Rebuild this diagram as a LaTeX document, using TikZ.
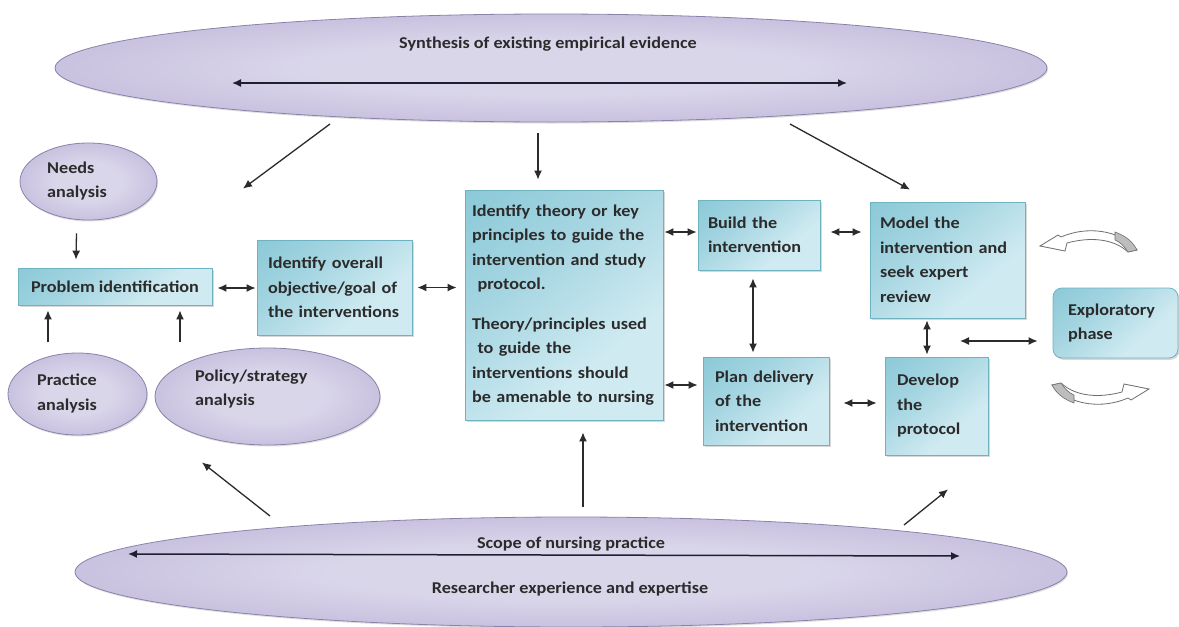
\documentclass[tikz,border=0pt]{standalone}
\usepackage{fontspec}
\setmainfont{Carlito}[FakeStretch=1.1]
\usetikzlibrary{arrows.meta,shadows,calc,shapes.geometric}

\definecolor{boxdark}{HTML}{7CC1D1}
\definecolor{boxmid}{HTML}{A4D5E1}
\definecolor{boxlight}{HTML}{CFEAF1}
\definecolor{boxedge}{HTML}{6FB2C2}
\definecolor{ovdark}{HTML}{A197C7}
\definecolor{ovmid}{HTML}{BFB7DA}
\definecolor{ovlight}{HTML}{DAD6EA}
\definecolor{ovedge}{HTML}{8A82AB}
\definecolor{ink}{HTML}{2B2B2B}
\definecolor{barink}{HTML}{1F1F33}
\definecolor{swooshedge}{HTML}{6E6E6E}
\definecolor{swooshfill}{HTML}{BDBDBD}

% soft fills for boxes and ovals
\pgfdeclareverticalshading{tealfade}{100bp}{color(0bp)=(boxlight); color(35bp)=(boxlight);
  color(62bp)=(boxmid); color(100bp)=(boxdark)}
\pgfdeclareradialshading{lilacfade}{\pgfpointorigin}{color(0bp)=(ovlight); color(12bp)=(ovlight);
  color(32bp)=(ovmid); color(50bp)=(ovdark); color(100bp)=(ovdark)}

\tikzset{
  lab/.style={font=\fontsize{16.5}{24.5}\selectfont\bfseries, text=ink},
  txt/.style={lab, inner sep=0pt, align=left},
  box/.style={lab, draw=boxedge, line width=0.8pt, shading=tealfade, shading angle=40,
    align=left, inner sep=0pt,
    drop shadow={shadow xshift=1.5pt, shadow yshift=-1.8pt, opacity=0.3}},
  oval/.style={ellipse, draw=ovedge, line width=0.8pt, shading=lilacfade, inner sep=0pt,
    drop shadow={shadow xshift=1pt, shadow yshift=-1.5pt, opacity=0.25}},
  >={Latex[length=9pt,width=8pt]},
  arr/.style={->, line width=1.3pt, draw=ink},
  darr/.style={<->, line width=1.3pt, draw=ink},
  bar/.style={<->, line width=1.5pt, draw=barink},
  swoosh/.pic={
    \filldraw[fill=white, draw=swooshedge, line width=0.8pt]
      (-48,4) -- (-30,-7) -- (-27,-5) .. controls (-2,-16) and (31,-13) .. (49,8)
      -- (40,10) .. controls (25,-4) and (1,-5) .. (-21,1) -- (-23,9) -- cycle;
    \filldraw[fill=swooshfill, draw=swooshedge, line width=0.6pt]
      (27,-10) .. controls (38,-6) and (45,0) .. (49,8)
      -- (40,10) .. controls (36,4) and (32,0) .. (27,-2) -- cycle;
  },
}

\begin{document}
\begin{tikzpicture}[x=1pt, y=-1pt]
\useasboundingbox (0,0) rectangle (1179,627);
\fill[white] (0,0) rectangle (1179,627);

% large context ovals
\node[oval, minimum width=992pt, minimum height=108pt] (evid) at (551,68) {};
\node[txt] (evidtxt) at (548,44) {Synthesis of existing empirical evidence};
\coordinate (evL) at (232,83);
\coordinate (evR) at (847,83);
\draw[bar] (evL) -- (evR);

\node[oval, minimum width=992pt, minimum height=110pt] (res) at (571,572) {};
\node[txt] (scopetxt) at (571,544) {Scope of nursing practice};
\node[txt] (restxt) at (570,589) {Researcher experience and expertise};
\coordinate (resL) at (128,554);
\coordinate (resR) at (960,556);
\draw[bar] (resL) -- (resR);

% analysis ovals
\node[oval, minimum width=137pt, minimum height=77pt] (needs) at (88.5,181.5) {};
\node[txt, anchor=west] (needstxt) at (47,181) {Needs\\analysis};
\node[oval, minimum width=139pt, minimum height=82pt] (practice) at (77.5,394) {};
\node[txt, anchor=west] (practicetxt) at (37,393.5) {Practice\\analysis};
\node[oval, minimum width=225pt, minimum height=97pt] (policy) at (267.5,396.5) {};
\node[txt, anchor=west] (policytxt) at (195,389) {Policy/strategy\\analysis};

% process boxes
\node[box, align=center, minimum width=194pt, minimum height=37pt] (prob) at (115,286.5) {Problem identification};
\node[box, minimum width=155pt, minimum height=95pt, text width=133pt] (goal) at (334.5,287.5)
  {Identify overall\\objective/goal of\\the interventions};
\node[box, minimum width=198pt, minimum height=230pt, text width=184pt] (theory) at (564,305)
  {Identify theory or key\\principles to guide the\\intervention and study\\\ protocol.\\[15pt]
   Theory/principles used\\\ to guide the\\interventions should\\be amenable to nursing};
\node[box, minimum width=122pt, minimum height=70pt, text width=102pt] (build) at (759,235)
  {Build the\\intervention};
\node[box, minimum width=126pt, minimum height=88pt, text width=102pt] (plan) at (766,401)
  {Plan delivery\\of the\\intervention};
\node[box, minimum width=155pt, minimum height=116pt, text width=135pt] (model) at (947.5,260)
  {Model the\\intervention and\\seek expert\\review};
\node[box, minimum width=103pt, minimum height=98pt, text width=79pt] (develop) at (936.5,406)
  {Develop\\the\\protocol};
\node[box, rounded corners=9pt, minimum width=125pt, minimum height=70pt, text width=95pt] (explore) at (1115.5,323)
  {Exploratory\\phase};

% cycle markers around the exploratory phase
\pic at (1088,242) {swoosh};
\pic[rotate=180] at (1101,393) {swoosh};

% influences from the evidence synthesis
\draw[arr] ([shift={(-221,56)}]evid.center) -- ([shift={(-91.5,-51)}]goal.north);
\draw[arr] ([shift={(-26,11)}]evid.south -| theory.north) -- ([shift={(-26,-10)}]theory.north);
\draw[arr] ([shift={(239,56)}]evid.center) -- ([shift={(-37.5,-12)}]model.north);

% influences from nursing practice and expertise
\draw[arr] ([shift={(-301,-56)}]res.center) -- ([shift={(-65.5,17)}]policy.south);
\draw[arr] ([shift={(12,-65)}]res.center) -- ([shift={(19,12)}]theory.south);
\draw[arr] ([shift={(333,-47)}]res.center) -- ([shift={(11.5,34)}]develop.south);

% feeding into problem identification
\draw[arr] ([shift={(-12,13)}]needs.south) -- ([shift={(-39,-8)}]prob.north);
\draw[arr] ([shift={(-67,37)}]prob.south) -- ([shift={(-67,5)}]prob.south);
\draw[arr] ([shift={(65,37)}]prob.south) -- ([shift={(65,5)}]prob.south);

% links between process steps
\draw[darr, shorten <=5pt, shorten >=1pt] ([yshift=-1.5pt]prob.east) -- ([yshift=-1.5pt]prob.east -| goal.west);
\draw[darr, shorten <=5pt, shorten >=8pt] (goal.east) -- (goal.east -| theory.west);
\draw[darr, shorten <=1pt, shorten >=1pt] ([yshift=3pt]theory.east |- build.west) -- ([yshift=3pt]build.west);
\path ([yshift=16pt]plan.west) coordinate (planw);
\draw[darr, shorten <=1pt, shorten >=5pt] (theory.east |- planw) -- (planw);
\path ([xshift=-6pt]build.south) coordinate (builds);
\draw[darr, shorten <=8pt, shorten >=4pt] (builds) -- (builds |- plan.north);
\draw[darr, shorten <=10pt, shorten >=8pt] ([yshift=3pt]build.east) -- ([yshift=3pt]build.east -| model.west);
\draw[darr, shorten <=14pt, shorten >=8pt] ([yshift=-2pt]plan.east) -- ([yshift=-2pt]plan.east -| develop.west);
\path ([xshift=-9.5pt]develop.north) coordinate (devn);
\draw[darr, shorten <=2pt, shorten >=2pt] (devn |- model.south) -- (devn);
\coordinate (hub) at (960,341);
\draw[darr, shorten >=15pt] (hub) -- (hub -| explore.west);
\end{tikzpicture}
\end{document}
